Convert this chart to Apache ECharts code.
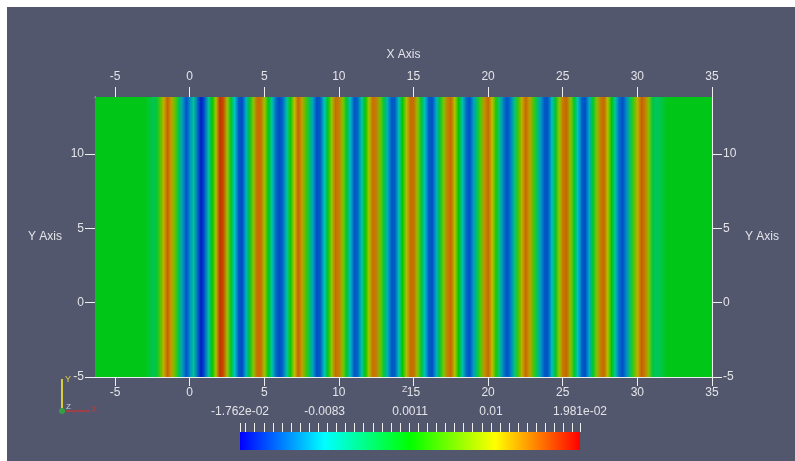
<!DOCTYPE html>
<html>
<head>
<meta charset="utf-8">
<script src="https://cdn.jsdelivr.net/npm/echarts@6/dist/echarts.min.js"></script>
<style>
  html, body { margin: 0; padding: 0; background: #ffffff; width: 795px; height: 461px; overflow: hidden; }
  #chart { position: absolute; left: 7px; top: 7px; width: 788px; height: 454px; background: #52576e; }
</style>
</head>
<body>
<div id="chart"></div>
<script>
// Axis ticks and ranges of the slice view
const xTicks = [-5, 0, 5, 10, 15, 20, 25, 30, 35];
const yTicks = [-5, 0, 5, 10];
const xRange = [-6.34, 35];
const yRange = [-5, 13.83];

// Scalar range of the colour map and the colour-bar labels
const scalarRange = [-0.01762, 0.01981];
const barLabelValues = [-0.01762, -0.0083, 0.0011, 0.01, 0.01981];
const barLabelTexts = ['-1.762e-02', '-0.0083', '0.0011', '0.01', '1.981e-02'];

// Scalar field along X (it is constant along Y): [x, value]
const profile = [
  [-6.5, -0.00003], [-3.0, -0.00003], [-2.75, -0.00115], [-2.5, -0.00265], [-2.25, -0.00190],
  [-2.0, 0.00484], [-1.75, 0.01158], [-1.5, 0.01532], [-1.25, 0.01232], [-1.0, 0.00559],
  [-0.75, -0.00265], [-0.5, -0.01013], [-0.25, -0.01388], [0.0, -0.01088], [0.25, -0.00564],
  [0.5, -0.01238], [0.75, -0.01650], [1.0, -0.01313], [1.25, -0.00639], [1.5, 0.00110],
  [1.75, 0.00933], [2.0, 0.01756], [2.25, 0.01607], [2.5, 0.00858], [2.75, -0.00078],
  [3.0, -0.00826], [3.25, -0.01313], [3.5, -0.01425], [3.75, -0.00939], [4.0, -0.00078],
  [4.25, 0.00783], [4.5, 0.01457], [4.75, 0.01457], [5.0, 0.00858], [5.25, 0.00035],
  [5.5, -0.00714], [5.75, -0.01238], [6.0, -0.01425], [6.25, -0.01238], [6.5, -0.00639],
  [6.75, 0.00184], [7.0, 0.01008], [7.25, 0.01532], [7.5, 0.01232], [7.75, 0.00484],
  [8.0, -0.00340], [8.25, -0.01013], [8.5, -0.01388], [8.75, -0.01313], [9.0, -0.00789],
  [9.25, 0.00035], [9.5, 0.00858], [9.75, 0.01457], [10.0, 0.01382], [10.25, 0.00708],
  [10.5, -0.00115], [10.75, -0.00864], [11.0, -0.01350], [11.25, -0.01275], [11.5, -0.00714],
  [11.75, 0.00110], [12.0, 0.00933], [12.25, 0.01457], [12.5, 0.01382], [12.75, 0.00634],
  [13.0, -0.00190], [13.25, -0.00939], [13.5, -0.01350], [13.75, -0.01313], [14.0, -0.00714],
  [14.25, 0.00110], [14.5, 0.00933], [14.75, 0.01457], [15.0, 0.01457], [15.25, 0.00783],
  [15.5, -0.00115], [15.75, -0.00864], [16.0, -0.01313], [16.25, -0.01388], [16.5, -0.00939],
  [16.75, -0.00115], [17.0, 0.00708], [17.25, 0.01382], [17.5, 0.01494], [17.75, 0.00933],
  [18.0, 0.00110], [18.25, -0.00714], [18.5, -0.01238], [18.75, -0.01388], [19.0, -0.01013],
  [19.25, -0.00265], [19.5, 0.00559], [19.75, 0.01307], [20.0, 0.01494], [20.25, 0.01083],
  [20.5, 0.00259], [20.75, -0.00564], [21.0, -0.01163], [21.25, -0.01388], [21.5, -0.01163],
  [21.75, -0.00489], [22.0, 0.00409], [22.25, 0.01158], [22.5, 0.01494], [22.75, 0.01232],
  [23.0, 0.00484], [23.25, -0.00340], [23.5, -0.01013], [23.75, -0.01350], [24.0, -0.01350],
  [24.25, -0.00864], [24.5, -0.00040], [24.75, 0.00858], [25.0, 0.01420], [25.25, 0.01494],
  [25.5, 0.00783], [25.75, -0.00078], [26.0, -0.00826], [26.25, -0.01313], [26.5, -0.01388],
  [26.75, -0.00939], [27.0, -0.00115], [27.25, 0.00708], [27.5, 0.01382], [27.75, 0.01494],
  [28.0, 0.00933], [28.25, 0.00110], [28.5, -0.00714], [28.75, -0.01238], [29.0, -0.01388],
  [29.25, -0.01088], [29.5, -0.00340], [29.75, 0.00484], [30.0, 0.01158], [30.25, 0.01532],
  [30.5, 0.01382], [30.75, 0.00708], [31.0, -0.00190], [31.25, -0.00340], [31.5, -0.00265],
  [31.75, -0.00115], [32.0, -0.00003], [35.5, -0.00003]
];

// Blue-to-red rainbow (HSV); the slice is lit, so its colours are darker than the bar's
const rainbowLit = ['#0000c6', '#00c6c6', '#00c600', '#c6c600', '#c60000'];
const rainbowBar = ['#0000ff', '#00ffff', '#00ff00', '#ffff00', '#ff0000'];

// Small ticks of the colour bar
const barMinorTicks = [scalarRange[0]];
for (let t = -17; t <= 19; t++) barMinorTicks.push(t / 1000);
barMinorTicks.push(scalarRange[1]);

const textColor = '#e4e4e8';
const lineColor = '#eef0ee';
const font = 'Liberation Sans, Arial, sans-serif';

function renderStripe(params, api) {
  const i = params.dataIndexInside;
  const n = params.dataInsideLength != null ? params.dataInsideLength : profile.length;
  if (i >= n - 1) return null;
  const x0 = api.value(0);
  const x1 = api.value(0, i + 1);
  const pTop = api.coord([x0, yRange[1]]);
  const pBot = api.coord([x1, yRange[0]]);
  const c0 = api.visual('color');
  const c1 = api.visual('color', i + 1);
  return {
    type: 'rect',
    shape: { x: pTop[0], y: pTop[1], width: pBot[0] - pTop[0] + 0.6, height: pBot[1] - pTop[1] },
    style: {
      fill: new echarts.graphic.LinearGradient(0, 0, 1, 0, [
        { offset: 0, color: c0 }, { offset: 1, color: c1 }
      ])
    }
  };
}

function renderBar(params, api) {
  const p0 = api.coord([api.value(0), 1]);
  const p1 = api.coord([api.value(1), 0]);
  const stops = rainbowBar.map((c, k) => ({ offset: k / (rainbowBar.length - 1), color: c }));
  return {
    type: 'rect',
    shape: { x: p0[0], y: p0[1], width: p1[0] - p0[0], height: p1[1] - p0[1] },
    style: { fill: new echarts.graphic.LinearGradient(0, 0, 1, 0, stops) }
  };
}

function valueAxis(extra) {
  return Object.assign({
    type: 'value',
    gridIndex: 0,
    axisLine: { show: true, onZero: false, lineStyle: { color: lineColor, width: 1 } },
    axisTick: { show: true, inside: false, length: 10, lineStyle: { color: lineColor, width: 1 } },
    axisLabel: { color: textColor, fontSize: 12, fontFamily: font, margin: 10, showMinLabel: true, showMaxLabel: true },
    splitLine: { show: false },
    nameTextStyle: { color: textColor, fontSize: 12, fontFamily: font }
  }, extra);
}

const chart = echarts.init(document.getElementById('chart'), null, { renderer: 'canvas' });

chart.setOption({
  backgroundColor: '#52576e',
  animation: false,
  grid: [
    { left: 88, top: 90, width: 617, height: 280, outerBoundsMode: 'none' },
    { left: 233, top: 425, width: 340, height: 18, outerBoundsMode: 'none' }
  ],
  xAxis: [
    valueAxis({
      position: 'bottom', min: xRange[0], max: xRange[1],
      axisTick: { show: true, length: 9, customValues: xTicks, lineStyle: { color: lineColor } },
      axisLabel: { customValues: xTicks, color: textColor, fontSize: 12, fontFamily: font, margin: 10 }
    }),
    valueAxis({
      position: 'top', min: xRange[0], max: xRange[1],
      name: 'X Axis', nameLocation: 'middle', nameGap: 36,
      axisTick: { show: true, length: 10, customValues: xTicks, lineStyle: { color: lineColor } },
      axisLabel: { customValues: xTicks, color: textColor, fontSize: 12, fontFamily: font, margin: 14 }
    }),
    {
      type: 'value', gridIndex: 1, position: 'top',
      min: scalarRange[0], max: scalarRange[1],
      axisLine: { show: false, onZero: false },
      axisTick: { show: true, inside: false, length: 9, customValues: barMinorTicks, lineStyle: { color: lineColor, width: 1 } },
      axisLabel: {
        customValues: barLabelValues, color: textColor, fontSize: 12, fontFamily: font, margin: 14,
        formatter: function (v) {
          let best = 0;
          for (let k = 1; k < barLabelValues.length; k++) {
            if (Math.abs(barLabelValues[k] - v) < Math.abs(barLabelValues[best] - v)) best = k;
          }
          return barLabelTexts[best];
        }
      },
      splitLine: { show: false }
    }
  ],
  yAxis: [
    valueAxis({
      position: 'left', min: yRange[0], max: yRange[1],
      name: 'Y Axis', nameLocation: 'middle', nameRotate: 0, nameGap: 33,
      axisTick: { show: true, length: 10, customValues: yTicks, lineStyle: { color: lineColor } },
      axisLabel: { customValues: yTicks, color: textColor, fontSize: 12, fontFamily: font, margin: 11 }
    }),
    valueAxis({
      position: 'right', min: yRange[0], max: yRange[1],
      name: 'Y Axis', nameLocation: 'middle', nameRotate: 0, nameGap: 33,
      axisTick: { show: true, length: 10, customValues: yTicks, lineStyle: { color: lineColor } },
      axisLabel: { customValues: yTicks, color: textColor, fontSize: 12, fontFamily: font, margin: 11 }
    }),
    { type: 'value', gridIndex: 1, min: 0, max: 1, show: false }
  ],
  visualMap: {
    type: 'continuous',
    show: false,
    seriesIndex: 0,
    dimension: 1,
    min: scalarRange[0],
    max: scalarRange[1],
    inRange: { color: rainbowLit }
  },
  series: [
    {
      type: 'custom',
      xAxisIndex: 0,
      yAxisIndex: 0,
      clip: true,
      renderItem: renderStripe,
      encode: { x: 0, y: -1 },
      data: profile,
      z: 1
    },
    {
      type: 'custom',
      xAxisIndex: 2,
      yAxisIndex: 2,
      renderItem: renderBar,
      data: [[scalarRange[0], scalarRange[1]]],
      z: 1
    }
  ],
  graphic: [
    // orientation triad
    { type: 'line', shape: { x1: 55, y1: 372, x2: 55, y2: 404 }, style: { stroke: '#d8cf3a', lineWidth: 2 } },
    { type: 'line', shape: { x1: 55, y1: 404, x2: 83, y2: 404 }, style: { stroke: '#b83a3a', lineWidth: 1.5 } },
    { type: 'circle', shape: { cx: 55, cy: 404, r: 3 }, style: { fill: '#35a043' } },
    { type: 'text', left: 58, top: 368, style: { text: 'Y', fill: '#d8cf3a', font: '9px ' + font } },
    { type: 'text', left: 84, top: 398, style: { text: 'X', fill: '#b83a3a', font: '9px ' + font } },
    { type: 'text', left: 59, top: 396, style: { text: 'Z', fill: '#cfd2da', font: '8px ' + font } },
    { type: 'text', left: 395, top: 378, style: { text: 'Z', fill: '#d6d8de', font: '9px ' + font } }
  ]
});
</script>
</body>
</html>
